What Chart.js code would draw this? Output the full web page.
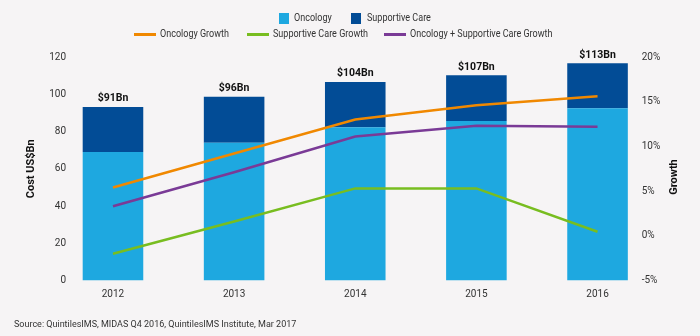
<!DOCTYPE html>
<html>
<head>
<meta charset="utf-8">
<script src="https://cdn.jsdelivr.net/npm/chart.js@4/dist/chart.umd.min.js"></script>
<style>
  html, body { margin: 0; padding: 0; background: #f6f4f5; }
  body { font-family: "Roboto", sans-serif; }
  #wrap { position: relative; width: 700px; height: 336px; }
  canvas { position: absolute; left: 0; top: 0; }
  .sw { position: absolute; }
  .lt { position: absolute; font-size: 11px; line-height: 12px; color: #333; white-space: nowrap;
        transform: scaleX(0.82); transform-origin: 0 50%; }
  #source { position: absolute; left: 14px; top: 318px; font-size: 9px; line-height: 12px; color: #333; white-space: nowrap; }
</style>
</head>
<body>
<div id="wrap">
  <canvas id="chart" width="700" height="336"></canvas>
  <div id="legend"></div>
  <div id="source">Source: QuintilesIMS, MIDAS Q4 2016, QuintilesIMS Institute, Mar 2017</div>
</div>
<script>
const years = ["2012", "2013", "2014", "2015", "2016"];
const oncology = [69, 74, 82.3, 85.7, 92.5];
const supportive = [24.2, 24.6, 24.3, 24.5, 24.1];
const totalLabels = ["$91Bn", "$96Bn", "$104Bn", "$107Bn", "$113Bn"];
const oncologyGrowth = [5.4, 9.2, 13.0, 14.6, 15.6];
const supportiveGrowth = [-2.0, 1.6, 5.3, 5.3, 0.45];
const combinedGrowth = [3.3, 7.1, 11.1, 12.3, 12.2];

const COLORS = {
  oncology: "#1ea8e0",
  supportive: "#024c96",
  oncGrowth: "#f08800",
  supGrowth: "#78bd20",
  combGrowth: "#7a3a96"
};

const FONT = "Roboto, sans-serif";

// legend (html), two rows like the original
const legendItems = [
  { text: "Oncology", color: COLORS.oncology, kind: "box", sx: 279, tx: 294, cy: 18 },
  { text: "Supportive Care", color: COLORS.supportive, kind: "box", sx: 351, tx: 367, cy: 18 },
  { text: "Oncology Growth", color: COLORS.oncGrowth, kind: "line", sx: 134, tx: 160, cy: 34 },
  { text: "Supportive Care Growth", color: COLORS.supGrowth, kind: "line", sx: 247, tx: 273, cy: 34 },
  { text: "Oncology + Supportive Care Growth", color: COLORS.combGrowth, kind: "line", sx: 384, tx: 410, cy: 34 }
];
const legendEl = document.getElementById("legend");
legendItems.forEach(it => {
  const sw = document.createElement("div");
  sw.className = "sw";
  const w = it.kind === "box" ? 10 : 22;
  const h = it.kind === "box" ? 11 : 3;
  sw.style.cssText = `left:${it.sx}px;top:${it.cy - h / 2}px;width:${w}px;height:${h}px;background:${it.color}`;
  const t = document.createElement("div");
  t.className = "lt";
  t.style.left = it.tx + "px";
  t.style.top = (it.cy - 6) + "px";
  t.textContent = it.text;
  legendEl.appendChild(sw);
  legendEl.appendChild(t);
});

const toPoints = arr => arr.map((v, i) => ({ x: i, y: v }));

// totals above bars + right axis title
const extrasPlugin = {
  id: "extras",
  afterDatasetsDraw(chart) {
    const { ctx } = chart;
    const topMeta = chart.getDatasetMeta(4);
    ctx.save();
    ctx.font = "bold 10.5px " + FONT;
    ctx.fillStyle = "#111";
    ctx.textAlign = "center";
    ctx.textBaseline = "bottom";
    topMeta.data.forEach((bar, i) => {
      ctx.fillText(totalLabels[i], bar.x, bar.y - 3);
    });
    ctx.font = "bold 11px " + FONT;
    ctx.translate(674, 177);
    ctx.rotate(-Math.PI / 2);
    ctx.textBaseline = "middle";
    ctx.fillText("Growth", 0, 0);
    ctx.restore();
  }
};

const lineStyle = { type: "line", yAxisID: "y1", borderWidth: 2.5, pointRadius: 0, fill: false, order: 0 };

new Chart(document.getElementById("chart"), {
  type: "bar",
  data: {
    datasets: [
      { ...lineStyle, label: "Oncology Growth", data: toPoints(oncologyGrowth), borderColor: COLORS.oncGrowth },
      { ...lineStyle, label: "Supportive Care Growth", data: toPoints(supportiveGrowth), borderColor: COLORS.supGrowth },
      { ...lineStyle, label: "Oncology + Supportive Care Growth", data: toPoints(combinedGrowth), borderColor: COLORS.combGrowth },
      { label: "Oncology", data: toPoints(oncology), backgroundColor: COLORS.oncology, stack: "cost", order: 1 },
      { label: "Supportive Care", data: toPoints(supportive), backgroundColor: COLORS.supportive, stack: "cost", order: 1 }
    ]
  },
  options: {
    responsive: false,
    animation: false,
    layout: { padding: { top: 57, left: 0, right: 0, bottom: 0 } },
    datasets: {
      bar: { barPercentage: 1, categoryPercentage: 0.5 }
    },
    plugins: {
      legend: { display: false },
      tooltip: { enabled: false }
    },
    scales: {
      x: {
        type: "linear",
        offset: false,
        min: -0.363,
        max: 4.334,
        grid: { display: false, drawTicks: false, offset: false },
        border: { display: false },
        ticks: {
          stepSize: 1,
          includeBounds: false,
          color: "#333",
          font: { family: FONT, size: 10 },
          padding: 8,
          callback: v => years[v] ?? ""
        },
        afterFit: s => { s.height = 55.5; }
      },
      y: {
        stacked: true,
        position: "left",
        min: 0,
        max: 120,
        grid: { display: false, drawTicks: false },
        border: { display: false },
        ticks: { stepSize: 20, color: "#333", font: { family: FONT, size: 10 }, padding: 3 },
        title: {
          display: true,
          text: "Cost US$Bn",
          color: "#111",
          font: { family: FONT, size: 11, weight: "bold" },
          padding: { top: 25, bottom: 0 }
        },
        afterFit: s => { s.width = 69; }
      },
      y1: {
        position: "right",
        min: -5,
        max: 20,
        grid: { display: false, drawTicks: false },
        border: { display: false },
        ticks: {
          stepSize: 5,
          color: "#333",
          font: { family: FONT, size: 10 },
          padding: 3.7,
          callback: v => v + "%"
        },
        afterFit: s => { s.width = 62; }
      }
    }
  },
  plugins: [extrasPlugin]
});
</script>
</body>
</html>
